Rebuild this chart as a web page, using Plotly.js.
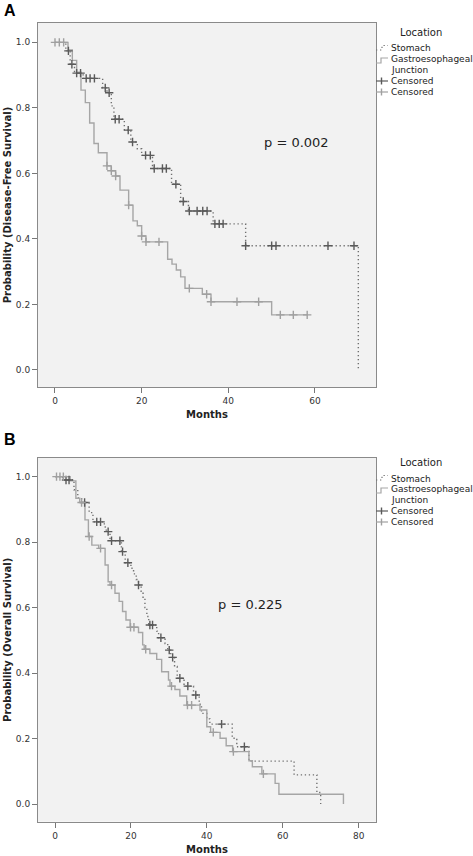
<!DOCTYPE html>
<html>
<head>
<meta charset="utf-8">
<script src="https://cdn.plot.ly/plotly-3.0.1.min.js"></script>
<style>
  html, body { margin: 0; padding: 0; background: #ffffff; }
  #chart { width: 473px; height: 856px; }
</style>
</head>
<body>
<div id="chart"></div>
<script>
// ---------- Data ----------
// Panel A: Disease-free survival
const gejDfsTime = [0, 3, 4, 5, 6, 7, 8, 9, 10, 12, 13, 14, 15, 17, 18, 19, 20, 21, 26, 27, 28, 29, 30, 34, 36, 50, 58.2];
const gejDfsSurv = [1.0, 0.977, 0.945, 0.909, 0.854, 0.816, 0.754, 0.691, 0.663, 0.623, 0.608, 0.592, 0.549, 0.503, 0.455, 0.44, 0.409, 0.391, 0.338, 0.323, 0.305, 0.284, 0.249, 0.231, 0.208, 0.168, 0.168];
const gejDfsCensored = [0, 1, 2, 12, 13, 14, 17, 20, 21, 24, 31, 35, 36, 42, 47, 52, 55, 58.2];

const stoDfsTime = [0, 2.5, 3.5, 4.5, 6.5, 11, 12, 13, 13.6, 16, 17.5, 19, 20, 22.5, 26.9, 29, 30.8, 36.5, 44, 70];
const stoDfsSurv = [1.0, 0.974, 0.933, 0.906, 0.89, 0.861, 0.846, 0.806, 0.765, 0.732, 0.696, 0.675, 0.655, 0.615, 0.567, 0.514, 0.485, 0.446, 0.379, 0.0];
const stoDfsCensored = [3.1, 3.9, 5, 5.9, 7.2, 8.1, 9.1, 11.6, 12.5, 13.9, 14.8, 16.9, 17.9, 20.9, 22, 22.9, 24.8, 25.7, 27.9, 29.6, 31, 32.8, 34.1, 35.1, 36.9, 37.9, 38.8, 44, 50, 51, 63, 69];

// Panel B: Overall survival
const gejOsTime = [0, 4, 5.5, 6.5, 7.9, 8.8, 9.7, 11.5, 13.2, 14, 14.5, 15.8, 16.9, 17.8, 18.7, 19.8, 22, 23.1, 23.5, 25, 26.8, 28.1, 29.9, 30.3, 31.6, 32.9, 34.7, 38.2, 40, 41, 43.5, 45.1, 46.8, 51.1, 52, 54.5, 58, 59, 76];
const gejOsSurv = [1.0, 0.987, 0.934, 0.921, 0.868, 0.817, 0.791, 0.781, 0.73, 0.679, 0.669, 0.644, 0.619, 0.588, 0.562, 0.54, 0.524, 0.486, 0.473, 0.46, 0.442, 0.404, 0.379, 0.36, 0.35, 0.33, 0.302, 0.287, 0.236, 0.219, 0.201, 0.178, 0.16, 0.132, 0.114, 0.092, 0.063, 0.03, 0.0];
const gejOsCensored = [0.4, 1.3, 2.2, 7, 9, 12, 14.9, 19.9, 20.8, 23.9, 30.7, 34.9, 36, 41.7, 47, 54.9];

const stoOsTime = [0, 2, 5, 6, 7, 9, 10, 13, 13.5, 14.5, 17.5, 18.5, 20, 20.7, 21.4, 22, 22.7, 23.2, 23.7, 24.2, 24.7, 26.8, 27.3, 29, 29.7, 30.5, 31.5, 32.2, 34, 36.5, 38, 38.6, 40, 40.8, 46.7, 47.9, 51.1, 63, 69, 70];
const stoOsSurv = [1.0, 0.99, 0.96, 0.935, 0.921, 0.89, 0.862, 0.846, 0.832, 0.804, 0.771, 0.737, 0.72, 0.703, 0.686, 0.669, 0.65, 0.625, 0.6, 0.573, 0.547, 0.528, 0.508, 0.49, 0.47, 0.448, 0.42, 0.384, 0.36, 0.333, 0.305, 0.277, 0.26, 0.244, 0.201, 0.175, 0.131, 0.089, 0.035, 0.0];
const stoOsCensored = [2.9, 3.7, 7.8, 11, 12, 14, 14.9, 17.1, 17.8, 19.2, 22, 25, 25.7, 27.9, 30.1, 31, 32.9, 35, 37.1, 43.9, 49.9];

const xTicksA = [0, 20, 40, 60];
const xTicksB = [0, 20, 40, 60, 80];
const yTicks = [0, 0.2, 0.4, 0.6, 0.8, 1.0];
const groupNames = ["Stomach", "Gastroesophageal Junction"];
const pValues = ["p = 0.002", "p = 0.225"];
const yTitles = ["Probability (Disease-Free Survival)", "Probability (Overall Survival)"];
const panelLabels = ["A", "B"];

// ---------- Helpers ----------
const W = 473, H = 856;
const FONT = "DejaVu Sans, Verdana, sans-serif";
const STO_COLOR = "#707070", STO_CENS = "#5a5a5a";
const GEJ_COLOR = "#a6a6a6", GEJ_CENS = "#a0a0a0";
const DOT = "1.3px,2.7px";

function levelAt(times, surv, t) {
  let v = surv[0];
  for (let i = 0; i < times.length; i++) if (times[i] <= t) v = surv[i];
  return v;
}
function px(x) { return x / W; }
function py(y) { return 1 - y / H; }

function curve(times, surv, color, dash, width, xa, ya, name) {
  return { type: "scatter", mode: "lines", x: times, y: surv, xaxis: xa, yaxis: ya, name: name,
    line: { shape: "hv", color: color, width: width, dash: dash }, showlegend: false, hoverinfo: "x+y" };
}
function cens(ct, times, surv, color, xa, ya, name) {
  return { type: "scatter", mode: "markers", x: ct, y: ct.map(t => levelAt(times, surv, t)), xaxis: xa, yaxis: ya,
    name: name, marker: { symbol: "cross-thin", size: 6, line: { color: color, width: 1.4 } },
    showlegend: false, hoverinfo: "x+y" };
}

const traces = [
  curve(stoDfsTime, stoDfsSurv, STO_COLOR, DOT, 1.4, "x", "y", groupNames[0]),
  curve(gejDfsTime, gejDfsSurv, GEJ_COLOR, "solid", 1.4, "x", "y", groupNames[1]),
  cens(stoDfsCensored, stoDfsTime, stoDfsSurv, STO_CENS, "x", "y", "Censored"),
  cens(gejDfsCensored, gejDfsTime, gejDfsSurv, GEJ_CENS, "x", "y", "Censored"),
  curve(stoOsTime, stoOsSurv, STO_COLOR, DOT, 1.4, "x2", "y2", groupNames[0]),
  curve(gejOsTime, gejOsSurv, GEJ_COLOR, "solid", 1.4, "x2", "y2", groupNames[1]),
  cens(stoOsCensored, stoOsTime, stoOsSurv, STO_CENS, "x2", "y2", "Censored"),
  cens(gejOsCensored, gejOsTime, gejOsSurv, GEJ_CENS, "x2", "y2", "Censored")
];

// ---------- Layout ----------
const tickFont = { family: FONT, size: 9, color: "#333" };
const titleFont = { family: FONT, size: 10, color: "#222", weight: "bold" };
function xAxis(domain, range, ticks, anchor) {
  return { domain: domain, range: range, tickvals: ticks, ticktext: ticks.map(String), anchor: anchor,
    showgrid: false, zeroline: false, showline: true, mirror: true, linecolor: "#8a8a8a", linewidth: 1,
    ticks: "outside", ticklen: 5, tickcolor: "#777", tickfont: tickFont,
    title: { text: "Months", font: titleFont, standoff: 6 }, automargin: false, fixedrange: true };
}
function yAxis(domain, range, title, anchor) {
  return { domain: domain, range: range, tickvals: yTicks, ticktext: yTicks.map(v => v.toFixed(1)), anchor: anchor,
    showgrid: false, zeroline: false, showline: true, mirror: true, linecolor: "#8a8a8a", linewidth: 1,
    ticks: "outside", ticklen: 5, tickcolor: "#777", tickfont: tickFont,
    title: { text: title, font: titleFont, standoff: 2 }, automargin: false, fixedrange: true };
}

const annotations = [];
const shapes = [];
[0, 430].forEach((off, k) => {
  annotations.push({ xref: "paper", yref: "paper", x: px(2), y: py(off + 10), xanchor: "left", yanchor: "middle",
    text: panelLabels[k], showarrow: false, font: { family: "Liberation Sans, Arial, sans-serif", size: 16, color: "#000", weight: "bold" } });
  annotations.push({ xref: "paper", yref: "paper", x: px(421), y: py(off + 32.5), xanchor: "center", yanchor: "middle",
    text: "Location", showarrow: false, font: { family: FONT, size: 10, color: "#222" } });
  const entries = [["Stomach", 48.5], ["Gastroesophageal", 59], ["Junction", 69.5], ["Censored", 81], ["Censored", 92]];
  entries.forEach(e => annotations.push({ xref: "paper", yref: "paper", x: px(389), y: py(off + e[1]), xanchor: "left",
    yanchor: "middle", text: e[0], showarrow: false, font: { family: FONT, size: 9, color: "#222" } }));
  // legend icons
  shapes.push({ type: "path", xref: "paper", yref: "paper",
    path: `M ${px(376)},${py(off + 50)} L ${px(382)},${py(off + 50)} L ${px(382)},${py(off + 45.5)} L ${px(388)},${py(off + 45.5)}`,
    line: { color: STO_COLOR, width: 1.2, dash: DOT } });
  shapes.push({ type: "path", xref: "paper", yref: "paper",
    path: `M ${px(376)},${py(off + 63)} L ${px(381)},${py(off + 63)} L ${px(381)},${py(off + 58)} L ${px(388)},${py(off + 58)}`,
    line: { color: GEJ_COLOR, width: 1.2 } });
  [[81, STO_CENS], [92, GEJ_CENS]].forEach(c => {
    shapes.push({ type: "line", xref: "paper", yref: "paper", x0: px(376), x1: px(388), y0: py(off + c[0]), y1: py(off + c[0]),
      line: { color: c[1], width: 1.2 } });
    shapes.push({ type: "line", xref: "paper", yref: "paper", x0: px(381.5), x1: px(381.5), y0: py(off + c[0] - 3.5), y1: py(off + c[0] + 3.5),
      line: { color: c[1], width: 1.4 } });
  });
});
annotations.push({ xref: "x", yref: "y", x: 55.8, y: 0.694, text: pValues[0], showarrow: false,
  font: { family: FONT, size: 13, color: "#222" } });
annotations.push({ xref: "x2", yref: "y2", x: 51.4, y: 0.608, text: pValues[1], showarrow: false,
  font: { family: FONT, size: 13, color: "#222" } });

const layout = {
  width: W, height: H,
  margin: { l: 0, r: 0, t: 0, b: 0 },
  paper_bgcolor: "#ffffff", plot_bgcolor: "#f2f2f2",
  font: { family: FONT, color: "#333" },
  showlegend: false,
  xaxis: xAxis([px(38), px(376)], [-3.92, 74.08], xTicksA, "y"),
  yaxis: yAxis([py(387), py(23)], [-0.052, 1.059], yTitles[0], "x"),
  xaxis2: xAxis([px(38), px(376)], [-4.48, 84.58], xTicksB, "y2"),
  yaxis2: yAxis([py(821.7), py(458)], [-0.054, 1.057], yTitles[1], "x2"),
  annotations: annotations,
  shapes: shapes
};

Plotly.newPlot("chart", traces, layout, { displayModeBar: false, staticPlot: true });
</script>
</body>
</html>
